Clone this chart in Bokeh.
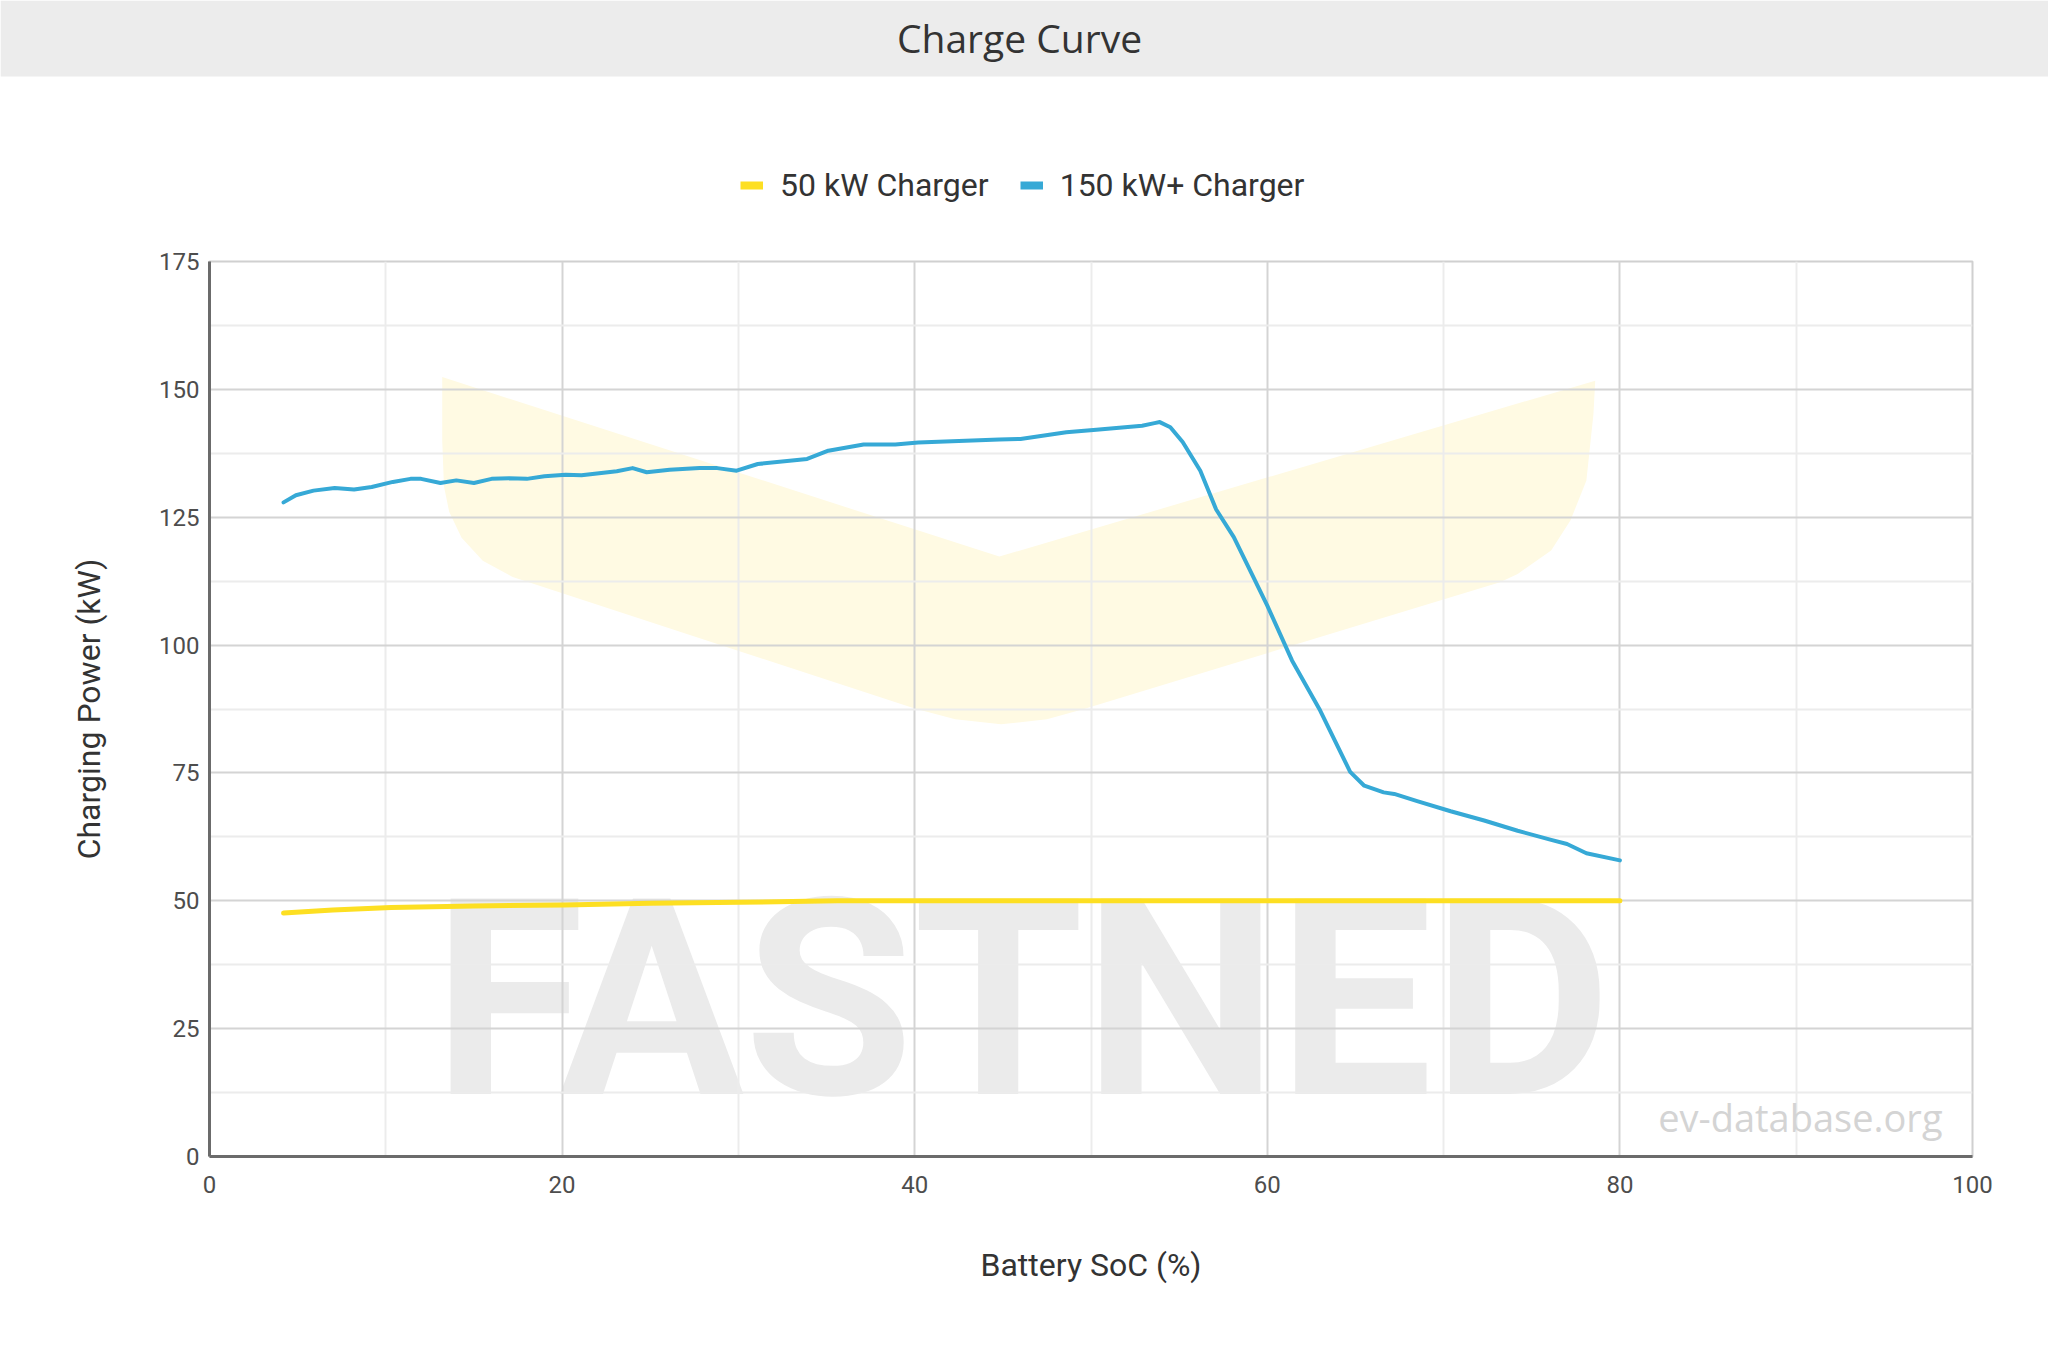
from bokeh.plotting import figure
from bokeh.models import Range1d, Legend, LegendItem, FixedTicker
from bokeh.layouts import column
from bokeh.core.properties import value
from bokeh.embed import file_html
from bokeh.resources import INLINE

# ---- data ----
soc_50 = [4.2, 7.0, 10.3, 15.0, 20.1, 25.0, 30.1, 35.6, 40, 50, 60, 70, 80]
kw_50 = [47.6, 48.2, 48.7, 49.0, 49.2, 49.5, 49.7, 50.0, 50.0, 50.0, 50.0, 50.0, 50.0]

soc_150 = [4.2, 4.9, 5.9, 7.1, 8.2, 9.2, 10.4, 11.4, 12.0, 13.1, 14.0, 15.0, 16.0, 17.0,
           18.0, 19.0, 20.2, 21.1, 22.1, 23.1, 24.0, 24.8, 26.1, 27.8, 28.8, 29.9, 31.1,
           33.9, 35.1, 37.1, 38.9, 40.2, 44.8, 46.0, 48.6, 50.3, 52.9, 53.6, 53.9, 54.5,
           55.2, 56.2, 57.1, 58.1, 60.0, 61.4, 63.0, 64.7, 65.5, 66.6, 67.2, 68.5, 70.4,
           72.3, 74.2, 76.1, 77.0, 78.1, 80.0]
kw_150 = [127.9, 129.3, 130.2, 130.7, 130.4, 130.9, 131.9, 132.5, 132.5, 131.7, 132.2, 131.7,
          132.5, 132.6, 132.5, 133.0, 133.3, 133.2, 133.6, 134.0, 134.6, 133.8, 134.3, 134.6,
          134.6, 134.1, 135.4, 136.4, 138.0, 139.2, 139.2, 139.6, 140.2, 140.3, 141.6, 142.1,
          142.9, 143.4, 143.6, 142.6, 139.7, 134.1, 126.5, 121.1, 107.7, 97.0, 87.2, 75.2,
          72.5, 71.2, 70.9, 69.5, 67.5, 65.7, 63.7, 61.9, 61.1, 59.3, 57.9]

series_labels = ["50 kW Charger", "150 kW+ Charger"]
x_ticks = [0, 20, 40, 60, 80, 100]
x_minor = [10, 30, 50, 70, 90]
y_ticks = [0, 25, 50, 75, 100, 125, 150, 175]
y_minor = [12.5, 37.5, 62.5, 87.5, 112.5, 137.5, 162.5]

# decorative watermark (logo chevron outline, in chart units)
wm_x = [13.2, 44.8, 78.6, 78.5, 78.1, 77.2, 76.1, 74.2, 73.2, 49.6, 47.5, 44.9, 42.3, 40.0,
        17.2, 15.5, 14.3, 13.6, 13.3, 13.2]
wm_y = [152.4, 117.3, 151.7, 145.2, 132.2, 124.4, 118.5, 113.9, 112.3, 87.5, 85.5, 84.5,
        85.5, 87.6, 113.3, 116.5, 121.0, 126.0, 131.0, 140.0]

YELLOW = "#fddf22"
BLUE = "#36a9d6"
W = 2048
TOP_H = 240      # header strip: title band + legend
BAND_H = 76
LEFT, RIGHT = 209, 76

# ---- header strip (title band + legend), pixel-like units ----
top = figure(width=W, height=TOP_H, title=None, x_range=Range1d(0, W),
             y_range=Range1d(0, TOP_H), toolbar_location=None, output_backend="svg",
             x_axis_location=None, y_axis_location=None,
             min_border_left=0, min_border_right=0, min_border_top=0, min_border_bottom=0)
top.frame_align = False
top.grid.visible = False
top.background_fill_color = "white"
top.border_fill_color = "white"
top.outline_line_color = None
top.quad(left=[0], right=[W], bottom=[TOP_H - BAND_H], top=[TOP_H],
         fill_color="#ececec", line_color=None)
top.text(x=[1019], y=[203], text=["Charge Curve"], text_align="center",
         text_baseline="alphabetic", text_font=value("Open Sans"),
         text_font_size=value("39px"), text_color="#333333")

# legend swatch renderers (single-point lines draw nothing themselves)
lg1 = top.line(x=[soc_50[-1]], y=[kw_50[-1]], line_color=YELLOW, line_width=8, line_cap="butt")
lg2 = top.line(x=[soc_150[-1]], y=[kw_150[-1]], line_color=BLUE, line_width=8, line_cap="butt")
legend = Legend(items=[LegendItem(label=series_labels[0], renderers=[lg1]),
                       LegendItem(label=series_labels[1], renderers=[lg2])],
                orientation="horizontal", location=(740, 36),
                glyph_width=23, glyph_height=36, label_height=36, label_standoff=17,
                spacing=31, padding=0, margin=0,
                border_line_color=None, background_fill_alpha=0,
                label_text_font="Roboto", label_text_font_size="32px",
                label_text_color="#333333")
top.add_layout(legend)

# ---- main chart ----
p = figure(width=W, height=1360 - TOP_H, title=None,
           x_range=Range1d(0, 100), y_range=Range1d(0, 175),
           toolbar_location=None, output_backend="svg",
           min_border_left=LEFT, min_border_right=RIGHT, min_border_top=21,
           min_border_bottom=204)
p.frame_align = False
p.background_fill_color = "white"
p.border_fill_color = "white"
p.outline_line_color = "#d0d0d0"
p.outline_line_width = 2

# watermark
p.patch(wm_x, wm_y, fill_color="#fffae3", line_color=None, level="image")
p.text(x=[46.1], y=[30.6], text=["FASTNED"], text_align="center", text_baseline="alphabetic",
       text_font=value("Roboto"), text_font_style="bold", text_font_size=value("275px"),
       text_color="#ebebeb", level="image")
p.text(x=[98.3], y=[7.7], text=["ev-database.org"], text_align="right",
       text_baseline="alphabetic", text_font=value("Open Sans"),
       text_font_size=value("38px"), text_color="#d4d4d4")

# axes / ticks
p.xaxis.ticker = FixedTicker(ticks=x_ticks, minor_ticks=x_minor)
p.yaxis.ticker = FixedTicker(ticks=y_ticks, minor_ticks=y_minor)
for ax in (p.xaxis, p.yaxis):
    ax.axis_line_color = "#6b6b6b"
    ax.axis_line_width = 3
    ax.major_tick_line_color = None
    ax.minor_tick_line_color = None
    ax.major_tick_out = 0
    ax.minor_tick_out = 0
    ax.major_label_text_font = "Roboto"
    ax.major_label_text_font_size = "24px"
    ax.major_label_text_color = "#4d4d4d"
    ax.axis_label_text_font = "Roboto"
    ax.axis_label_text_font_size = "32px"
    ax.axis_label_text_font_style = "normal"
    ax.axis_label_text_color = "#333333"
p.xaxis.axis_label = "Battery SoC (%)"
p.yaxis.axis_label = "Charging Power (kW)"
p.xaxis.major_label_standoff = 19
p.yaxis.major_label_standoff = 10
p.xaxis.axis_label_standoff = 50
p.yaxis.axis_label_standoff = 48

for g in (p.xgrid, p.ygrid):
    g.grid_line_color = "#d4d4d4"
    g.grid_line_width = 2
    g.minor_grid_line_color = "#ececec"
    g.minor_grid_line_width = 2

# series
p.line(soc_50, kw_50, line_color=YELLOW, line_width=5, line_join="round", line_cap="round")
p.line(soc_150, kw_150, line_color=BLUE, line_width=4, line_join="round", line_cap="round")

layout = column(top, p, spacing=0)
open("out.html", "w").write(file_html(layout, INLINE))
